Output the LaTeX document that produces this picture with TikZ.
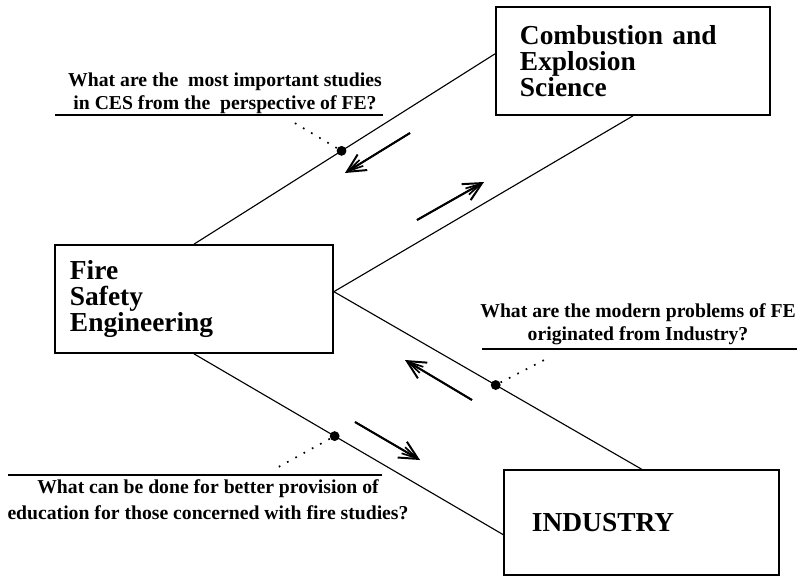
\documentclass[tikz,border=0pt]{standalone}
\usepackage{fontspec}
\setmainfont{Liberation Serif}
\usetikzlibrary{arrows.meta}
\tikzset{
  area/.style={rectangle,draw,line width=1.2pt,align=left,inner ysep=0pt,
               font=\bfseries\fontsize{19.5}{18.5}\selectfont},
  question/.style={align=center,inner sep=0pt,
               font=\bfseries\fontsize{14}{16.4}\selectfont},
  link/.style={line width=0.8pt},
  rule/.style={line width=1.4pt},
  leader/.style={line width=1.2pt,dash pattern=on 1.2pt off 5.5pt},
  spot/.style={circle,fill,inner sep=0pt,minimum size=7pt},
  move/.style={line width=1.4pt,-{Straight Barb[length=13pt,width=13pt]},
               postaction={draw,line width=1.2pt,-{Straight Barb[length=11pt,width=5pt]}}},
}

\begin{document}
\begin{tikzpicture}[x=0.025cm,y=-0.025cm]
  \useasboundingbox (0,0) rectangle (803,578);
  % the three fields
  \node[area,minimum width=6.85cm,minimum height=2.7cm,inner xsep=0.6cm,
        text width=5.65cm] (ces) at (633,61)
       {Combustion and\\Explosion\\Science};
  \node[area,minimum width=6.95cm,minimum height=2.7cm,inner xsep=0.375cm,
        text width=6.2cm] (fse) at (194,299)
       {Fire\\Safety\\Engineering};
  \node[area,minimum width=6.875cm,minimum height=2.625cm,inner xsep=0.7cm,
        text width=5.475cm] (ind) at (641.5,522.5)
       {INDUSTRY\\[6pt]};
  % links between fields
  \draw[link] (fse.north) -- node[spot,pos=0.49] (dces) {} (ces.177);
  \draw[link] (fse.3) -- (ces.south);
  \draw[link] (fse.3) -- node[spot,pos=0.526] (dind) {} (ind.north);
  \draw[link] (fse.south) -- node[spot,pos=0.455] (dedu) {} (ind.185);
  % questions
  \node[question] (qces) at (225,93.5)
       {What are the \ most important studies\\in CES from the \ perspective of FE?};
  \coordinate (uces1) at (55,115);
  \coordinate (uces2) at (383,115);
  \draw[rule] (uces1) -- (uces2);
  \coordinate (lces) at (293,122);
  \draw[leader] (dces) -- (lces);

  \node[question] (qind) at (638,324)
       {What are the modern problems of FE\\originated from Industry?};
  \coordinate (uind1) at (482,349);
  \coordinate (uind2) at (797,349);
  \draw[rule] (uind1) -- (uind2);
  \coordinate (lind) at (550,357);
  \draw[leader] (dind) -- (lind);

  \node[question,font=\bfseries\fontsize{14}{18.5}\selectfont] (qedu) at (208,500)
       {What can be done for better provision of\\education for those concerned with fire studies?};
  \coordinate (uedu1) at (8,475);
  \coordinate (uedu2) at (382,475);
  \draw[rule] (uedu1) -- (uedu2);
  \coordinate (ledu) at (273,470);
  \draw[leader] (dedu) -- (ledu);
  % direction arrows
  \coordinate (m1a) at (410,133); \coordinate (m1b) at (345,173);
  \coordinate (m2a) at (417,220); \coordinate (m2b) at (484,182);
  \coordinate (m3a) at (472,400); \coordinate (m3b) at (405,360);
  \coordinate (m4a) at (355,422); \coordinate (m4b) at (420,460);
  \draw[move] (m1a) -- (m1b);
  \draw[move] (m2a) -- (m2b);
  \draw[move] (m3a) -- (m3b);
  \draw[move] (m4a) -- (m4b);
\end{tikzpicture}
\end{document}
